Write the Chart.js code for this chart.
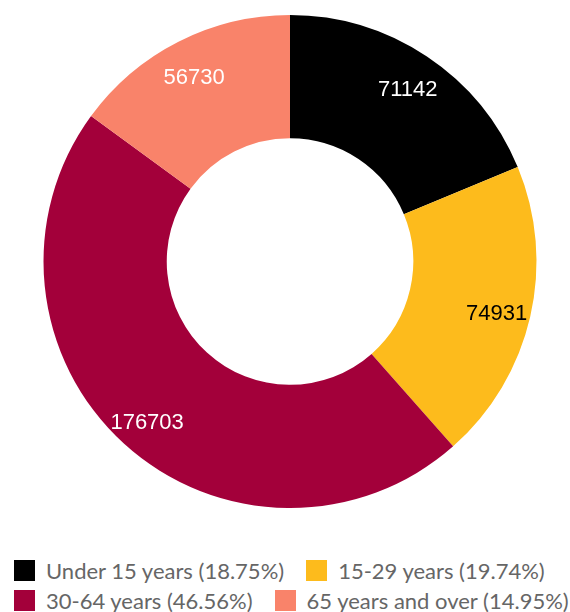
<!DOCTYPE html>
<html>
<head>
<meta charset="utf-8">
<script src="https://cdn.jsdelivr.net/npm/chart.js"></script>
<style>
  body { margin: 0; background: #fff; overflow: hidden; }
  #wrap { position: relative; width: 570px; height: 612px; }
  #grafico { position: absolute; left: 0; top: 0; }
  #leyenda {
    position: absolute; left: 14px; top: 555px; width: 600px;
    display: flex; flex-wrap: wrap; column-gap: 22px;
    font-family: Lato, sans-serif; font-size: 22px; color: #666;
  }
  .item { display: flex; align-items: center; height: 30px; white-space: nowrap; }
  .caja { width: 21px; height: 21px; margin-right: 11px; }
</style>
</head>
<body>
<div id="wrap">
  <canvas id="grafico" width="570" height="520"></canvas>
  <div id="leyenda"></div>
</div>
<script>
// Datos del gráfico
const categorias = ['Under 15 years', '15-29 years', '30-64 years', '65 years and over'];
const poblacion = [71142, 74931, 176703, 56730];
const colores = ['#000000', '#FDBB1C', '#A3003A', '#F9836A'];
const coloresEtiqueta = ['#ffffff', '#000000', '#ffffff', '#ffffff'];

const total = poblacion.reduce((a, b) => a + b, 0);

// Plugin para escribir el valor dentro de cada segmento
const etiquetasValores = {
    id: 'etiquetasValores',
    afterDatasetsDraw(chart) {
        const ctx = chart.ctx;
        const meta = chart.getDatasetMeta(0);
        ctx.save();
        ctx.font = '22px "Liberation Sans", Arial, sans-serif';
        ctx.textAlign = 'center';
        ctx.textBaseline = 'middle';
        meta.data.forEach((arco, i) => {
            const p = arco.getProps(['x', 'y', 'startAngle', 'endAngle', 'innerRadius', 'outerRadius'], true);
            const medio = (p.startAngle + p.endAngle) / 2;
            const r = p.innerRadius + 0.72 * (p.outerRadius - p.innerRadius);
            ctx.fillStyle = coloresEtiqueta[i];
            ctx.fillText(String(poblacion[i]), p.x + Math.cos(medio) * r, p.y + Math.sin(medio) * r + 5);
        });
        ctx.restore();
    }
};

new Chart(document.getElementById('grafico'), {
    type: 'doughnut',
    data: {
        labels: categorias,
        datasets: [{
            data: poblacion,
            backgroundColor: colores,
            borderWidth: 0
        }]
    },
    options: {
        responsive: false,
        animation: false,
        cutout: '50%',
        layout: { padding: { top: 15, bottom: 12, left: 10, right: 0 } },
        plugins: {
            legend: { display: false },
            tooltip: { enabled: false }
        }
    },
    plugins: [etiquetasValores]
});

// Leyenda con porcentajes
const leyenda = document.getElementById('leyenda');
categorias.forEach((nombre, i) => {
    const pct = (poblacion[i] / total * 100).toFixed(2);
    const item = document.createElement('div');
    item.className = 'item';
    item.innerHTML = `<span class="caja" style="background:${colores[i]}"></span><span>${nombre} (${pct}%)</span>`;
    leyenda.appendChild(item);
});
</script>
</body>
</html>
